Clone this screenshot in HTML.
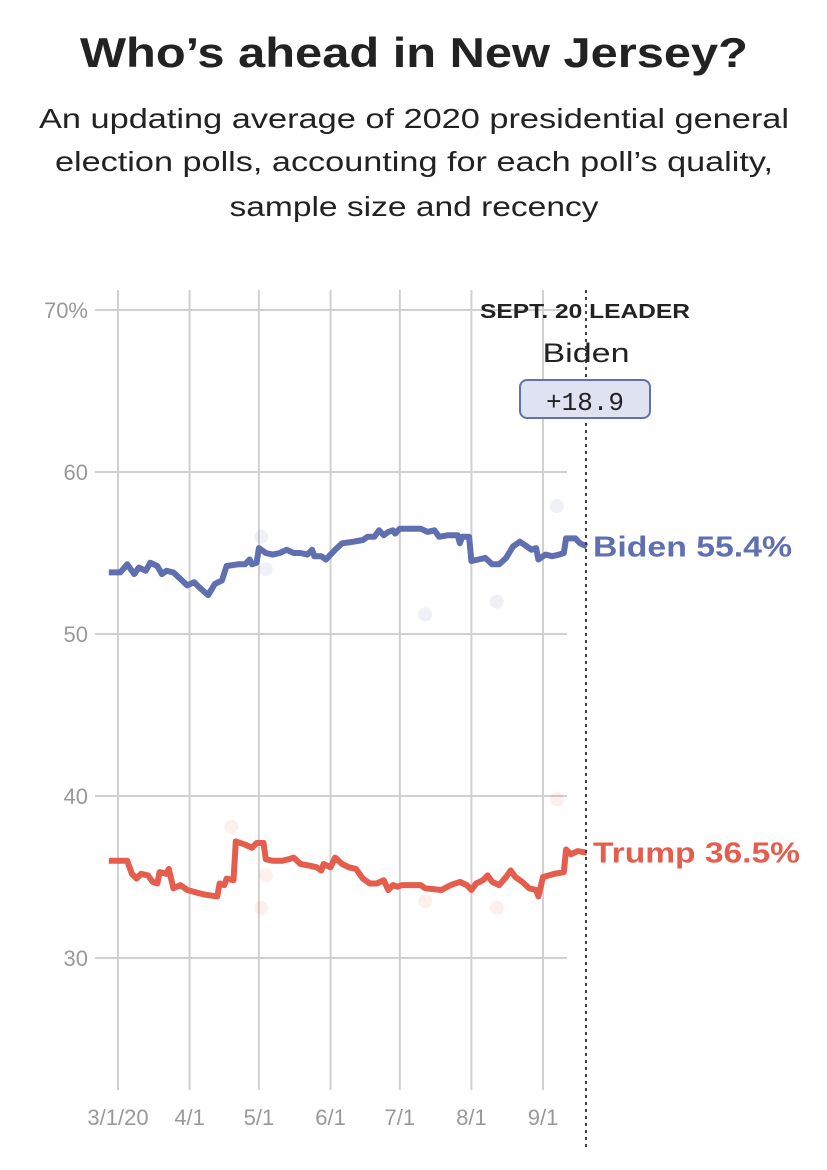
<!DOCTYPE html>
<html><head><meta charset="utf-8"><style>
body{margin:0;background:#fff;width:827px;height:1165px;overflow:hidden;font-family:"Liberation Sans",sans-serif}
</style></head><body>
<svg id="chart" width="827" height="1165" xmlns="http://www.w3.org/2000/svg">
<text x="414" y="67" text-anchor="middle" font-size="42" font-weight="bold" fill="#222" textLength="668" lengthAdjust="spacingAndGlyphs">Who’s ahead in New Jersey?</text>
<g font-size="28" fill="#222" text-anchor="middle">
<text x="414" y="128" textLength="750" lengthAdjust="spacingAndGlyphs">An updating average of 2020 presidential general</text>
<text x="414" y="171" textLength="718" lengthAdjust="spacingAndGlyphs">election polls, accounting for each poll’s quality,</text>
<text x="414" y="216" textLength="369" lengthAdjust="spacingAndGlyphs">sample size and recency</text>
</g>
<g id="grid"></g>
<g id="dots"></g>
<g id="lines"></g>
<line x1="586" y1="290" x2="586" y2="1150" stroke="#444" stroke-width="2" stroke-dasharray="3,4"/>
<text x="585" y="318" text-anchor="middle" font-size="20" font-weight="bold" fill="#222" textLength="210" lengthAdjust="spacingAndGlyphs">SEPT. 20 LEADER</text>
<text x="586" y="362" text-anchor="middle" font-size="27" fill="#222" textLength="87" lengthAdjust="spacingAndGlyphs">Biden</text>
<rect x="520" y="380" width="130" height="38" rx="7" fill="#dfe2f0" stroke="#6271b2" stroke-width="2"/>
<text x="585" y="410" text-anchor="middle" font-size="26" font-family="Liberation Mono, monospace" fill="#222">+18.9</text>
<g id="labels"></g>
</svg>
<script>
const yTicks=[30,40,50,60,70];
const xTickDays=[0,31,61,92,122,153,184];
const xTickLabels=["3/1/20","4/1","5/1","6/1","7/1","8/1","9/1"];
const bidenDays=[-4,1,4,7,9,12,14,17,19,21,24,27,30,33,35,39,42,45,47,52,55,57,58,60,61,64,67,70,73,76,79,82,84,85,88,90,94,97,102,106,108,111,113,115,117,119,120,122,131,134,137,139,143,147,148,149,152,153,156,159,162,165,168,171,174,177,179,181,182,185,188,191,193,194,198,200,203];
const bidenVals=[53.8,53.8,54.3,53.7,54.1,53.9,54.4,54.2,53.7,53.9,53.8,53.4,53.0,53.2,52.9,52.4,53.1,53.3,54.2,54.3,54.3,54.6,54.3,54.4,55.3,55.0,54.9,55.0,55.2,55.0,55.0,54.9,55.2,54.8,54.8,54.6,55.2,55.6,55.7,55.8,56.0,56.0,56.4,56.1,56.3,56.4,56.2,56.5,56.5,56.3,56.4,56.0,56.1,56.1,55.6,56.0,56.0,54.5,54.6,54.7,54.3,54.3,54.7,55.4,55.7,55.4,55.2,55.3,54.6,54.9,54.8,54.9,55.0,55.9,55.9,55.6,55.4];
const trumpDays=[-4,4,6,8,10,13,15,17,18,21,22,24,27,30,35,38,43,44,46,47,50,51,55,58,60,63,64,67,71,74,76,79,83,86,88,89,92,94,97,100,103,106,109,112,115,117,119,121,123,131,133,140,144,148,151,153,155,158,160,162,165,168,170,172,175,178,181,182,184,189,193,194,196,199,203];
const trumpVals=[36.0,36.0,35.2,34.9,35.2,35.1,34.7,34.6,35.3,35.2,35.5,34.3,34.5,34.2,34.0,33.9,33.8,34.6,34.5,34.9,34.8,37.2,37.0,36.8,37.1,37.1,36.1,36.0,36.0,36.1,36.2,35.8,35.7,35.6,35.4,35.8,35.6,36.2,35.8,35.6,35.5,34.9,34.6,34.6,34.8,34.2,34.5,34.4,34.5,34.5,34.3,34.2,34.5,34.7,34.5,34.2,34.6,34.8,35.1,34.7,34.5,35.0,35.4,35.0,34.7,34.3,34.2,33.8,35.0,35.2,35.3,36.7,36.4,36.6,36.5];
const bidenPollDays=[62,64,133,164,190];
const bidenPollVals=[56.0,54.0,51.2,52.0,57.9];
const trumpPollDays=[49,64,62,133,164,190];
const trumpPollVals=[38.1,35.1,33.1,33.5,33.1,39.8];
const bidenLatest="55.4", trumpLatest="36.5";

const NS="http://www.w3.org/2000/svg";
const xs=d=>118+d*2.31;
const ys=v=>310+(70-v)*16.2;
function mk(tag,attrs,parent,text){const e=document.createElementNS(NS,tag);for(const k in attrs)e.setAttribute(k,attrs[k]);if(text!==undefined)e.textContent=text;document.getElementById(parent).appendChild(e);return e;}
yTicks.forEach(t=>{
  const l=mk('line',{x1:95,x2:567,y1:ys(t),y2:ys(t),stroke:'#d0d0d0','stroke-width':2},'grid');
  
  
  const tx=mk('text',{x:88,y:ys(t)+8,'text-anchor':'end','font-size':22,fill:'#999','font-family':'Liberation Sans Narrow, Liberation Sans, sans-serif'},'grid',t===70?'70%':String(t));
  
  
});
xTickDays.forEach((d,i)=>{
  const l=mk('line',{x1:xs(d),x2:xs(d),y1:290,y2:1090,stroke:'#d0d0d0','stroke-width':2},'grid');
  
  
  const tx=mk('text',{x:xs(d),y:1125,'text-anchor':'middle','font-size':22,fill:'#999','font-family':'Liberation Sans Narrow, Liberation Sans, sans-serif'},'grid',xTickLabels[i]);
  
  
});
bidenPollDays.forEach((d,i)=>{
  const c=mk('circle',{cx:xs(d),cy:ys(bidenPollVals[i]),r:7,fill:'#6271b2','fill-opacity':0.1},'dots');
  
  
});
trumpPollDays.forEach((d,i)=>{
  const c=mk('circle',{cx:xs(d),cy:ys(trumpPollVals[i]),r:7,fill:'#e5604f','fill-opacity':0.1},'dots');
  
  
});
function pathOf(ds,vs){return ds.map((d,i)=>(i?'L':'M')+xs(d).toFixed(1)+','+ys(vs[i]).toFixed(1)).join('');}
const bp=mk('path',{d:pathOf(bidenDays,bidenVals),fill:'none',stroke:'#5f6fb0','stroke-width':6,'stroke-linejoin':'round'},'lines');


const tp=mk('path',{d:pathOf(trumpDays,trumpVals),fill:'none',stroke:'#e45d4d','stroke-width':6,'stroke-linejoin':'round'},'lines');


const bl=mk('text',{x:593,y:ys(bidenVals[bidenVals.length-1])+10,'font-size':29,'font-weight':'bold',fill:'#5f6fb0',textLength:199,lengthAdjust:'spacingAndGlyphs'},'labels','Biden '+bidenLatest+'%');


const tl=mk('text',{x:593,y:ys(trumpVals[trumpVals.length-1])+10,'font-size':29,'font-weight':'bold',fill:'#e45d4d',textLength:207,lengthAdjust:'spacingAndGlyphs'},'labels','Trump '+trumpLatest+'%');


</script>
</body></html>
